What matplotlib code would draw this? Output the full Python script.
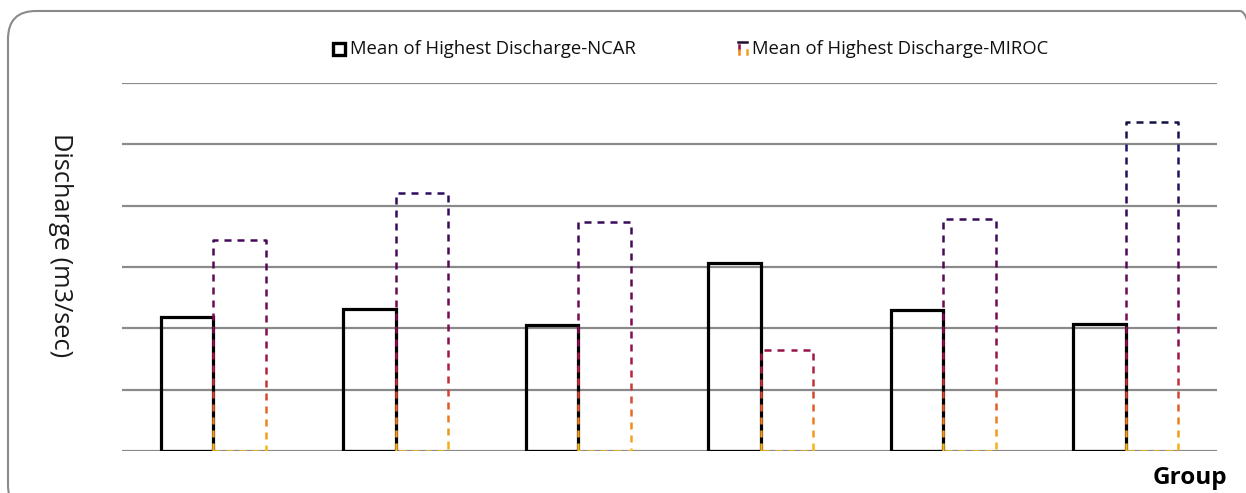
import numpy as np
import matplotlib
matplotlib.use("Agg")
import matplotlib.pyplot as plt
from matplotlib.collections import LineCollection
from matplotlib.colors import LinearSegmentedColormap
from matplotlib.patches import FancyBboxPatch, Rectangle
from matplotlib.transforms import IdentityTransform

plt.rcParams['font.family'] = ['Open Sans', 'DejaVu Sans']

# Mean of highest discharge per group (gridline units)
groups = ['1', '2', '3', '4', '5', '6']
ncar = [2.18, 2.32, 2.05, 3.07, 2.30, 2.07]
miroc = [3.44, 4.21, 3.73, 1.65, 3.78, 5.36]
ymax = 6
labels = ['Mean of Highest Discharge-NCAR', 'Mean of Highest Discharge-MIROC']

# orange at the base fading to dark navy at the top
grad = LinearSegmentedColormap.from_list('grad', [
    (0.00, '#f7b81a'), (0.07, '#f08a1a'), (0.13, '#e0502a'), (0.22, '#b02040'),
    (0.30, '#8a0c50'), (0.43, '#6a0a55'), (0.57, '#44095a'), (0.70, '#2a0c5a'),
    (0.83, '#1a1860'), (0.92, '#101038'), (1.00, '#0a0a20')])

W, H = 1246, 493
fig = plt.figure(figsize=(W / 100, H / 100), dpi=100)
ax = fig.add_axes([122 / W, 42 / H, 1095 / W, 368 / H])

x = np.arange(len(groups))
w = 0.288
ax.set_xlim(-0.5, len(groups) - 0.5)
ax.set_ylim(0, ymax)

for s in ax.spines.values():
    s.set_visible(False)
ax.set_xticks([])
ax.set_yticks(range(ymax + 1))
ax.tick_params(left=False, labelleft=False)
ax.yaxis.grid(True, color='#8a8a8a', lw=1.6)
ax.set_axisbelow(True)

ax.bar(x - w / 2, ncar, w, fill=False, edgecolor='black', lw=2.3, zorder=2)
mbars = ax.bar(x + w / 2, miroc, w, fill=False, edgecolor='none', zorder=2)


def dashed_outline(ax, rect, dash=8, gap=5, lw=1.8):
    x0, y0 = rect.get_x(), rect.get_y()
    x1, y1 = x0 + rect.get_width(), y0 + rect.get_height()
    pts = ax.transData.transform([(x0, y0), (x0, y1), (x1, y1), (x1, y0), (x0, y0)])
    samples = []
    for a, b in zip(pts[:-1], pts[1:]):
        n = max(int(np.ceil(np.hypot(*(b - a)))), 1)
        for k in range(n):
            samples.append(a + (b - a) * k / n)
    samples.append(pts[-1])
    samples = np.array(samples)
    dist = np.concatenate([[0], np.cumsum(np.hypot(*np.diff(samples, axis=0).T))])
    on = (dist % (dash + gap)) < dash
    inv = ax.transData.inverted()
    segs, cols = [], []
    i = 0
    while i < len(samples):
        if on[i]:
            j = i
            while j + 1 < len(samples) and on[j + 1]:
                j += 1
            if j > i:
                seg = inv.transform(samples[i:j + 1])
                segs.append(seg)
                cols.append(grad(np.clip(seg[:, 1].mean() / ymax, 0, 1)))
            i = j + 1
        else:
            i += 1
    ax.add_collection(LineCollection(segs, colors=cols, lw=lw, capstyle='butt', zorder=3))


for r in mbars.patches:
    dashed_outline(ax, r)

fig.text(60 / W, 1 - 245 / H, 'Discharge (m3/sec)', rotation=-90, fontsize=18.3,
         color='#1a1a1a', ha='center', va='center')
fig.text(1190 / W, 1 - 478 / H, 'Group', fontsize=17.5, fontweight='bold',
         ha='center', va='center')

# legend
ty = 1 - 49 / H
fig.patches.append(Rectangle((333 / W, 1 - 55 / H), 12 / W, 12 / H, fill=False,
                             edgecolor='black', lw=2.4, transform=fig.transFigure))
fig.text(350 / W, ty, labels[0], fontsize=13.3, va='center', color='#111111')
mk = [((738, 42), (747, 42), '#1a1030'), ((739, 45), (739, 49), '#8a0c50'),
      ((739, 50), (739, 54), '#f08a1a'), ((747, 50), (747, 54), '#f0a020')]
for (xa, ya), (xb, yb), c in mk:
    fig.add_artist(plt.Line2D([xa / W, xb / W], [1 - ya / H, 1 - yb / H], color=c,
                              lw=1.8, transform=fig.transFigure))
fig.text(752 / W, ty, labels[1], fontsize=13.3, va='center', color='#111111')

# rounded frame
fig.patches.append(FancyBboxPatch((8, -20), 1260, 502, boxstyle='round,pad=0,rounding_size=28',
                                  fill=False, edgecolor='#8a8a8a', lw=1.5,
                                  transform=IdentityTransform()))

fig.savefig('out.png', dpi=100)
